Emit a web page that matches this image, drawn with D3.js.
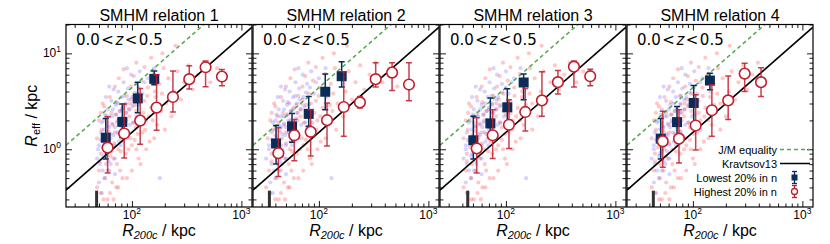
<!DOCTYPE html>
<meta charset="utf-8">
<title>SMHM relations</title>
<style>
body { margin: 0; background: #fff; }
text { font-family: "Liberation Sans", Arial, sans-serif; fill: #000; }
.axis path { display: none; }
.axis line { stroke: #000; stroke-width: 0.9; }
</style>
<body>
<script src="https://cdnjs.cloudflare.com/ajax/libs/d3/7.8.5/d3.min.js"></script>
<script>
var w = 830, h = 244;
var left0 = 66, step = 187, pw = 186, top0 = 24.5, ph = 182.5;

var titles = ["SMHM relation 1", "SMHM relation 2", "SMHM relation 3", "SMHM relation 4"];
var xDomain = [25, 1250], yDomain = [0.25, 20];
var kravK = 0.015, jmK = 0.044;
var limits = [47.6, 35.3, 44.8, 43.5];
var limitTop = 0.37;

// [R200c, Reff, lower, upper]
var low1 = [[57.7,1.32,0.79,2.09],[81.7,1.93,1.33,2.97],[113,3.39,2.41,5.01],[160,5.42,4.70,6.56]];
var high1 = [[60,1.04,0.565,2.18],[85,1.46,0.81,2.97],[119,1.99,1.13,4.30],[168,2.72,1.58,5.97],
  [237,3.51,2.45,6.56],[334,5.38,4.24,7.44],[471,7.17,4.48,8.32],[664,5.73,4.59,6.77]];
var low2 = [[40.6,1.15,0.70,1.77],[56.8,1.73,1.18,2.36],[80.7,2.34,1.74,3.56],[114.3,3.98,2.59,6.11],[161.4,5.78,4.45,8.19]];
var high2 = [[42.6,0.91,0.52,1.68],[59.6,1.40,0.76,2.04],[84.1,1.52,0.85,2.59],[118.6,2.01,1.08,3.04],
  [168.6,2.76,1.37,6.45],[237,3.08,2.70,3.56],[330,5.38,4.45,8.0],[466,6.30,4.10,8.0],[665,4.73,3.21,8.0]];
var low3 = [[50.4,1.24,0.79,2.21],[72.1,1.86,1.37,3.42],[103,2.74,1.89,4.27],[145.2,4.97,3.29,6.11]];
var high3 = [[54.1,1.02,0.565,2.13],[75.7,1.40,0.80,2.59],[106.6,1.80,1.02,3.29],[150.3,2.45,1.55,4.30],
  [213.3,3.23,2.21,6.45],[298.5,5.01,3.77,6.61],[418,7.27,4.45,8.32],[589,5.78,4.59,6.83]];
var low4 = [[50.8,1.29,0.79,2.09],[71.6,1.92,1.27,2.80],[101.7,3.04,1.89,4.62],[143,5.21,4.17,6.21]];
var high4 = [[53,1.21,0.65,2.49],[74.6,1.29,0.72,2.59],[106,1.77,0.98,3.70],[149,2.55,1.37,4.70],
  [210,3.23,2.04,5.82],[297,6.15,4.01,7.88],[419,5.01,3.56,7.10]];

// individual galaxies, [R200c, Reff]
var red1 = [[48,0.4],[50,0.6],[52,0.9],[55,1.2],[53,1.6],[58,0.7],[60,1.9],[62,1.1],[65,2.4],[57,0.5],[68,0.8],[70,1.5],[72,3.1],[75,1.0],[74,2.0],[78,0.6],[80,1.3],[82,2.7],[85,1.8],[88,0.9],[90,3.6],[92,1.4],[95,2.2],[98,4.5],[100,1.1],[105,2.9],[108,1.7],[112,3.8],[115,0.8],[118,2.3],[122,5.2],[125,1.5],[130,3.2],[135,2.0],[140,4.4],[145,1.2],[150,2.7],[158,6.1],[165,3.5],[170,1.8],[178,4.8],[185,2.5],[195,7.0],[205,3.0],[215,5.5],[230,2.2],[245,4.0],[260,6.5],[280,3.3],[300,5.0],[330,7.5],[360,4.2],[400,6.0],[450,8.0],[520,5.0],[600,7.0],[52,0.35],[60,0.3],[66,0.45],[56,2.8],[63,3.5],[70,4.5],[76,5.5],[84,6.8],[90,0.5],[100,0.6],[110,1.0],[120,0.7],[135,1.0],[160,1.3],[48,1.3],[50,2.0],[54,3.0],[62,0.6],[72,0.4],[88,2.4],[96,3.0],[104,5.8],[130,7.2],[150,9.0],[110,8.0],[190,10],[250,12],
  [51,0.75],[54,1.05],[56,1.4],[59,0.95],[61,1.55],[64,0.85],[64,1.3],[67,1.8],[69,1.15],[71,2.3],[73,0.7],[76,1.45],[77,2.5],[79,0.95],[81,1.7],[83,1.2],[86,2.9],[87,1.55],[89,2.0],[93,1.0],[94,2.6],[97,1.3],[99,3.3],[102,1.9],[106,1.25],[109,2.5],[113,1.45],[116,3.0],[121,1.9],[127,2.4],[132,1.6],[138,3.6],[143,2.2],[155,2.0],[162,4.0],[175,2.9],[188,3.8],[200,1.6],[52,2.4],[58,2.2],[55,0.3],[63,0.35],[68,0.3],[75,0.4],[82,0.5]];
var blue1 = [[48,0.8],[50,1.1],[52,1.5],[54,0.6],[55,2.0],[57,1.3],[58,0.9],[60,2.6],[62,1.7],[63,1.0],[65,3.2],[66,2.2],[68,1.4],[70,0.8],[71,2.9],[73,1.9],[75,4.0],[76,1.2],[78,2.5],[80,3.5],[82,1.6],[84,5.0],[86,2.1],[88,3.0],[90,1.3],[92,4.3],[95,2.6],[98,6.0],[100,3.5],[104,1.9],[108,4.8],[112,2.9],[118,6.5],[125,3.8],[50,0.45],[53,0.35],[56,0.5],[60,0.6],[64,0.7],[70,0.55],[58,3.5],[62,4.5],[68,4.2],[90,7.0],[140,5.5],[160,7.0],[180,0.5],
  [49,1.0],[51,0.7],[52,1.25],[53,1.9],[55,0.85],[56,1.6],[57,2.3],[59,1.15],[60,1.75],[61,0.75],[62,2.2],[64,1.45],[65,0.95],[66,1.85],[67,2.6],[69,1.1],[70,1.7],[72,2.3],[74,1.5],[75,3.0],[77,2.0],[79,1.1],[81,2.6],[83,1.9],[85,3.6],[87,1.5],[89,2.4],[93,3.3],[96,1.8],[101,2.8],[106,3.9],[110,2.2],[115,4.4],[130,5.0]];
var red2 = [[33,0.4],[35,0.6],[37,0.9],[40,1.2],[38,1.6],[42,0.7],[43,1.9],[45,1.1],[47,2.4],[41,0.5],[49,0.8],[50,1.5],[52,3.1],[54,1.0],[53,2.0],[56,0.6],[58,1.3],[59,2.7],[61,1.8],[63,0.9],[65,3.6],[66,1.4],[68,2.2],[71,4.5],[72,1.1],[76,2.9],[78,1.7],[81,3.8],[83,0.8],[85,2.3],[88,5.2],[90,1.5],[94,3.2],[97,2.0],[101,4.4],[104,1.2],[108,2.7],[114,6.1],[119,3.5],[122,1.8],[128,4.8],[133,2.5],[140,7.0],[148,3.0],[155,5.5],[166,2.2],[176,4.0],[187,6.5],[200,3.3],[216,5.0],[238,7.5],[260,4.2],[290,6.0],[330,8.0],[380,5.0],[440,7.0],[520,4.5],[36,0.35],[43,0.3],[48,0.45],[40,2.8],[45,3.5],[50,4.5],[55,5.5],[60,6.8],[65,0.5],[72,0.6],[79,1.0],[86,0.7],[97,1.0],[115,1.3],[34,1.3],[36,2.0],[39,3.0],[45,0.6],[52,0.4],[63,2.4],[69,3.0],[75,5.8],[94,7.2],[108,9.0],[80,8.0],[137,10],[180,12],
  [37,0.75],[39,1.05],[40,1.4],[42,0.95],[44,1.55],[46,0.85],[46,1.3],[48,1.8],[50,1.15],[51,2.3],[53,0.7],[55,1.45],[55,2.5],[57,0.95],[58,1.7],[60,1.2],[62,2.9],[63,1.55],[64,2.0],[67,1.0],[68,2.6],[70,1.3],[71,3.3],[73,1.9],[76,1.25],[78,2.5],[81,1.45],[84,3.0],[87,1.9],[91,2.4],[95,1.6],[99,3.6],[103,2.2],[112,2.0],[117,4.0],[126,2.9],[135,3.8],[144,1.6],[37,2.4],[42,2.2],[40,0.3],[45,0.35],[49,0.3],[54,0.4],[59,0.5]];
var blue2 = [[33,0.8],[35,1.1],[37,1.5],[39,0.6],[40,2.0],[41,1.3],[42,0.9],[43,2.6],[45,1.7],[46,1.0],[47,3.2],[48,2.2],[49,1.4],[50,0.8],[51,2.9],[53,1.9],[54,4.0],[55,1.2],[56,2.5],[58,3.5],[59,1.6],[61,5.0],[62,2.1],[63,3.0],[65,1.3],[66,4.3],[68,2.6],[71,6.0],[72,3.5],[75,1.9],[78,4.8],[81,2.9],[85,6.5],[90,3.8],[36,0.45],[38,0.35],[40,0.5],[43,0.6],[46,0.7],[50,0.55],[42,3.5],[45,4.5],[49,4.2],[65,7.0],[100,5.5],[115,7.0],[130,0.5],
  [35,1.0],[37,0.7],[37,1.25],[38,1.9],[40,0.85],[40,1.6],[41,2.3],[42,1.15],[43,1.75],[44,0.75],[45,2.2],[46,1.45],[47,0.95],[48,1.85],[48,2.6],[50,1.1],[50,1.7],[52,2.3],[53,1.5],[54,3.0],[55,2.0],[57,1.1],[58,2.6],[60,1.9],[61,3.6],[63,1.5],[64,2.4],[67,3.3],[69,1.8],[73,2.8],[76,3.9],[79,2.2],[83,4.4],[94,5.0]];
var red3 = [[41,0.4],[43,0.6],[44,0.9],[47,1.2],[45,1.6],[49,0.7],[51,1.9],[53,1.1],[55,2.4],[48,0.5],[58,0.8],[60,1.5],[61,3.1],[64,1.0],[63,2.0],[66,0.6],[68,1.3],[70,2.7],[72,1.8],[75,0.9],[77,3.6],[78,1.4],[81,2.2],[83,4.5],[85,1.1],[89,2.9],[92,1.7],[95,3.8],[98,0.8],[100,2.3],[104,5.2],[106,1.5],[110,3.2],[115,2.0],[119,4.4],[123,1.2],[128,2.7],[134,6.1],[140,3.5],[145,1.8],[151,4.8],[157,2.5],[166,7.0],[174,3.0],[183,5.5],[196,2.2],[208,4.0],[221,6.5],[238,3.3],[255,5.0],[280,7.5],[306,4.2],[340,6.0],[383,8.0],[440,5.0],[510,6.5],[44,0.35],[51,0.3],[56,0.45],[48,2.8],[54,3.5],[60,4.5],[65,5.5],[71,6.8],[77,0.5],[85,0.6],[94,1.0],[102,0.7],[115,1.0],[136,1.3],[41,1.3],[43,2.0],[46,3.0],[53,0.6],[61,0.4],[75,2.4],[82,3.0],[88,5.8],[110,7.2],[128,9.0],[94,8.0],[162,10],[212,12],
  [44,0.75],[47,1.05],[49,1.4],[51,0.95],[53,1.55],[56,0.85],[56,1.3],[58,1.8],[60,1.15],[62,2.3],[64,0.7],[66,1.45],[67,2.5],[69,0.95],[70,1.7],[72,1.2],[75,2.9],[76,1.55],[77,2.0],[81,1.0],[82,2.6],[84,1.3],[86,3.3],[89,1.9],[92,1.25],[95,2.5],[98,1.45],[101,3.0],[105,1.9],[110,2.4],[115,1.6],[120,3.6],[124,2.2],[135,2.0],[141,4.0],[152,2.9],[164,3.8],[174,1.6],[45,2.4],[50,2.2],[48,0.3],[55,0.35],[59,0.3],[65,0.4],[71,0.5]];
var blue3 = [[41,0.8],[43,1.1],[44,1.5],[46,0.6],[47,2.0],[48,1.3],[49,0.9],[51,2.6],[53,1.7],[54,1.0],[55,3.2],[56,2.2],[58,1.4],[60,0.8],[60,2.9],[62,1.9],[64,4.0],[65,1.2],[66,2.5],[68,3.5],[70,1.6],[71,5.0],[73,2.1],[75,3.0],[77,1.3],[78,4.3],[81,2.6],[83,6.0],[85,3.5],[88,1.9],[92,4.8],[95,2.9],[100,6.5],[106,3.8],[43,0.45],[45,0.35],[48,0.5],[51,0.6],[54,0.7],[60,0.55],[49,3.5],[53,4.5],[58,4.2],[77,7.0],[119,5.5],[136,7.0],[153,0.5],
  [43,1.0],[44,0.7],[45,1.25],[46,1.9],[48,0.85],[49,1.6],[50,2.3],[51,1.15],[52,1.75],[53,0.75],[54,2.2],[56,1.45],[57,0.95],[57,1.85],[58,2.6],[60,1.1],[61,1.7],[63,2.3],[64,1.5],[65,3.0],[67,2.0],[69,1.1],[70,2.6],[72,1.9],[74,3.6],[76,1.5],[77,2.4],[81,3.3],[84,1.8],[88,2.8],[92,3.9],[96,2.2],[100,4.4],[113,5.0]];
var red4 = [[42,0.4],[44,0.6],[45,0.9],[48,1.2],[46,1.6],[50,0.7],[52,1.9],[54,1.1],[57,2.4],[50,0.5],[59,0.8],[61,1.5],[63,3.1],[65,1.0],[64,2.0],[68,0.6],[70,1.3],[71,2.7],[74,1.8],[77,0.9],[78,3.6],[80,1.4],[83,2.2],[85,4.5],[87,1.1],[91,2.9],[94,1.7],[97,3.8],[100,0.8],[103,2.3],[106,5.2],[109,1.5],[113,3.2],[117,2.0],[122,4.4],[126,1.2],[130,2.7],[137,6.1],[143,3.5],[148,1.8],[155,4.8],[161,2.5],[170,7.0],[178,3.0],[187,5.5],[200,2.2],[213,4.0],[226,6.5],[243,3.3],[261,5.0],[287,7.5],[313,4.2],[348,6.0],[392,8.0],[45,0.35],[52,0.3],[57,0.45],[49,2.8],[55,3.5],[61,4.5],[66,5.5],[73,6.8],[78,0.5],[87,0.6],[96,1.0],[104,0.7],[117,1.0],[139,1.3],[42,1.3],[44,2.0],[47,3.0],[54,0.6],[63,0.4],[77,2.4],[84,3.0],[90,5.8],[113,7.2],[130,9.0],[96,8.0],[165,10],[217,12],
  [45,0.75],[48,1.05],[50,1.4],[52,0.95],[54,1.55],[57,0.85],[57,1.3],[60,1.8],[61,1.15],[63,2.3],[65,0.7],[68,1.45],[69,2.5],[70,0.95],[72,1.7],[74,1.2],[77,2.9],[77,1.55],[79,2.0],[83,1.0],[84,2.6],[86,1.3],[88,3.3],[91,1.9],[94,1.25],[97,2.5],[101,1.45],[103,3.0],[108,1.9],[113,2.4],[117,1.6],[123,3.6],[127,2.2],[138,2.0],[144,4.0],[156,2.9],[167,3.8],[178,1.6],[46,2.4],[52,2.2],[49,0.3],[56,0.35],[61,0.3],[67,0.4],[73,0.5]];
var blue4 = [[42,0.8],[44,1.1],[45,1.5],[47,0.6],[48,2.0],[49,1.3],[50,0.9],[52,2.6],[54,1.7],[55,1.0],[57,3.2],[58,2.2],[59,1.4],[61,0.8],[62,2.9],[64,1.9],[66,4.0],[67,1.2],[68,2.5],[70,3.5],[72,1.6],[73,5.0],[75,2.1],[77,3.0],[79,1.3],[80,4.3],[83,2.6],[85,6.0],[87,3.5],[91,1.9],[94,4.8],[97,2.9],[103,6.5],[109,3.8],[44,0.45],[46,0.35],[49,0.5],[52,0.6],[56,0.7],[61,0.55],[50,3.5],[54,4.5],[59,4.2],[79,7.0],[122,5.5],[139,7.0],[157,0.5],
  [44,1.0],[45,0.7],[46,1.25],[47,1.9],[49,0.85],[50,1.6],[51,2.3],[53,1.15],[53,1.75],[54,0.75],[55,2.2],[57,1.45],[58,0.95],[59,1.85],[60,2.6],[61,1.1],[62,1.7],[64,2.3],[66,1.5],[67,3.0],[69,2.0],[70,1.1],[72,2.6],[74,1.9],[76,3.6],[77,1.5],[79,2.4],[83,3.3],[85,1.8],[90,2.8],[94,3.9],[98,2.2],[102,4.4],[116,5.0]];

var legendLabels = ["J/M equality", "Kravtsov13", "Lowest 20% in n", "Highest 20% in n"];

var navy = "#0b2b58", crimson = "#c0202e", green = "#55a84f";

var panels = [
  {low: low1, high: high1, red: red1, blue: blue1},
  {low: low2, high: high2, red: red2, blue: blue2},
  {low: low3, high: high3, red: red3, blue: blue3},
  {low: low4, high: high4, red: red4, blue: blue4}
];

var svg = d3.select("body").append("svg")
    .attr("width", w)
    .attr("height", h);

var x = d3.scaleLog().domain(xDomain).range([0, pw]);
var y = d3.scaleLog().domain(yDomain).range([ph, 0]);
var isMajor = function(v) { return Math.abs(Math.log10(v) - Math.round(Math.log10(v))) < 1e-9; };
var xt = x.ticks(), yt = y.ticks();

svg.append("defs").append("clipPath").attr("id", "clip")
  .append("rect").attr("width", pw).attr("height", ph);

panels.forEach(function(p, i) {
  var g = svg.append("g").attr("transform", "translate(" + (left0 + i * step) + "," + top0 + ")");
  var plot = g.append("g").attr("clip-path", "url(#clip)");

  plot.selectAll(".red").data(p.red).enter().append("circle")
      .attr("cx", function(d) { return x(d[0]); })
      .attr("cy", function(d) { return y(d[1]); })
      .attr("r", 2.1)
      .style("fill", "#ff3b3b").style("fill-opacity", 0.28);
  plot.selectAll(".blue").data(p.blue).enter().append("circle")
      .attr("cx", function(d) { return x(d[0]); })
      .attr("cy", function(d) { return y(d[1]); })
      .attr("r", 2.1)
      .style("fill", "#3b3bff").style("fill-opacity", 0.22);

  plot.append("line")
      .attr("x1", x(xDomain[0])).attr("y1", y(jmK * xDomain[0]))
      .attr("x2", x(xDomain[1])).attr("y2", y(jmK * xDomain[1]))
      .style("stroke", green).style("stroke-width", 1.5).style("stroke-dasharray", "4,3");
  plot.append("line")
      .attr("x1", x(xDomain[0])).attr("y1", y(kravK * xDomain[0]))
      .attr("x2", x(xDomain[1])).attr("y2", y(kravK * xDomain[1]))
      .style("stroke", "#000").style("stroke-width", 1.5);

  plot.append("rect")
      .attr("x", x(limits[i]) - 1.5).attr("width", 3)
      .attr("y", y(limitTop)).attr("height", y(yDomain[0]) - y(limitTop))
      .style("fill", "#333");

  errbars(plot, p.low, navy, 1);
  plot.selectAll(".sq").data(p.low).enter().append("rect")
      .attr("x", function(d) { return x(d[0]) - 5; })
      .attr("y", function(d) { return y(d[1]) - 5; })
      .attr("width", 10).attr("height", 10)
      .style("fill", navy);
  errbars(plot, p.high, crimson, 0.85);
  plot.selectAll(".ci").data(p.high).enter().append("circle")
      .attr("cx", function(d) { return x(d[0]); })
      .attr("cy", function(d) { return y(d[1]); })
      .attr("r", 5.3)
      .style("fill", "#fff").style("stroke", crimson).style("stroke-width", 1.6);

  // ticks, inward on all four sides
  [[d3.axisBottom(x), "translate(0," + ph + ")", 1], [d3.axisTop(x), null, 1],
   [d3.axisLeft(y), null, -1], [d3.axisRight(y), "translate(" + pw + ",0)", -1]].forEach(function(a) {
    var vals = a[2] === 1 ? xt : yt;
    [false, true].forEach(function(maj) {
      g.append("g").attr("class", "axis").attr("transform", a[1])
        .call(a[0].tickValues(vals.filter(function(v) { return isMajor(v) === maj; }))
          .tickSize(maj ? -6 : -3.5).tickFormat(""));
    });
  });

  xt.filter(isMajor).forEach(function(v) {
    var t = g.append("text").attr("x", x(v)).attr("y", ph + 12).attr("text-anchor", "middle")
      .style("font-size", "12px");
    t.append("tspan").text("10");
    t.append("tspan").attr("dy", -5).style("font-size", "8.5px").text(Math.round(Math.log10(v)));
  });
  if (i === 0) {
    yt.filter(isMajor).forEach(function(v) {
      var t = g.append("text").attr("x", -5).attr("y", y(v) + 4).attr("text-anchor", "end")
        .style("font-size", "12px");
      t.append("tspan").text("10");
      t.append("tspan").attr("dy", -5).style("font-size", "8.5px").text(Math.round(Math.log10(v)));
    });
    var yl = g.append("text")
        .attr("transform", "translate(-29," + (ph / 2) + ") rotate(-90)")
        .attr("text-anchor", "middle").style("font-size", "16px");
    yl.append("tspan").style("font-style", "italic").text("R");
    yl.append("tspan").attr("dy", 3).style("font-size", "11px").text("eff");
    yl.append("tspan").attr("dy", -3).text(" / kpc");
  }

  g.append("rect").attr("width", pw).attr("height", ph)
      .style("fill", "none").style("stroke", "#000").style("stroke-width", 1.2);

  g.append("text").attr("x", pw / 2).attr("y", -4).attr("text-anchor", "middle")
      .style("font-size", "16px").text(titles[i]);

  var zl = g.append("text").attr("x", 10).attr("y", 20.5)
      .style("font-family", "'DejaVu Sans', sans-serif").style("font-size", "15px");
  zl.append("tspan").text("0.0\u200a<\u200a");
  zl.append("tspan").style("font-style", "italic").text("z");
  zl.append("tspan").text("\u200a<\u200a0.5");

  var xl = g.append("text").attr("x", pw / 2).attr("y", ph + 29)
      .attr("text-anchor", "middle").style("font-size", "16px");
  xl.append("tspan").style("font-style", "italic").text("R");
  xl.append("tspan").attr("dy", 3).style("font-style", "italic").style("font-size", "11px").text("200c");
  xl.append("tspan").attr("dy", -3).text(" / kpc");
});

function errbars(sel, data, color, op) {
  var e = sel.append("g").style("stroke", color).style("stroke-width", 1.5).style("stroke-opacity", op);
  e.selectAll(".v").data(data).enter().append("line")
      .attr("x1", function(d) { return x(d[0]); }).attr("x2", function(d) { return x(d[0]); })
      .attr("y1", function(d) { return y(d[2]); }).attr("y2", function(d) { return y(d[3]); });
  [2, 3].forEach(function(k) {
    e.selectAll(".c" + k).data(data).enter().append("line")
        .attr("x1", function(d) { return x(d[0]) - 3; }).attr("x2", function(d) { return x(d[0]) + 3; })
        .attr("y1", function(d) { return y(d[k]); }).attr("y2", function(d) { return y(d[k]); });
  });
}

// legend in the last panel
var lg = svg.append("g");
var ly = [149.5, 163.5, 177.5, 191.5], hx0 = 780, hx1 = 810, hc = 794.5;
legendLabels.forEach(function(s, k) {
  lg.append("text").attr("x", hx0 - 3).attr("y", ly[k] + 4).attr("text-anchor", "end")
      .style("font-family", "'Liberation Sans Narrow', 'Liberation Sans', sans-serif")
      .style("font-size", "11px").text(s);
});
lg.append("line").attr("x1", hx0).attr("x2", hx1).attr("y1", ly[0]).attr("y2", ly[0])
    .style("stroke", green).style("stroke-width", 1.5).style("stroke-dasharray", "4,3");
lg.append("line").attr("x1", hx0).attr("x2", hx1).attr("y1", ly[1]).attr("y2", ly[1])
    .style("stroke", "#000").style("stroke-width", 1.5);
[[ly[2], navy], [ly[3], crimson]].forEach(function(m, k) {
  var e = lg.append("g").style("stroke", m[1]).style("stroke-width", 1.3);
  e.append("line").attr("x1", hc).attr("x2", hc).attr("y1", m[0] - 6).attr("y2", m[0] + 6);
  e.append("line").attr("x1", hc - 2.5).attr("x2", hc + 2.5).attr("y1", m[0] - 6).attr("y2", m[0] - 6);
  e.append("line").attr("x1", hc - 2.5).attr("x2", hc + 2.5).attr("y1", m[0] + 6).attr("y2", m[0] + 6);
  if (k === 0) {
    lg.append("rect").attr("x", hc - 3).attr("y", m[0] - 3).attr("width", 6).attr("height", 6)
        .style("fill", navy);
  } else {
    lg.append("circle").attr("cx", hc).attr("cy", m[0]).attr("r", 3)
        .style("fill", "#fff").style("stroke", crimson).style("stroke-width", 1.3);
  }
});
</script>
